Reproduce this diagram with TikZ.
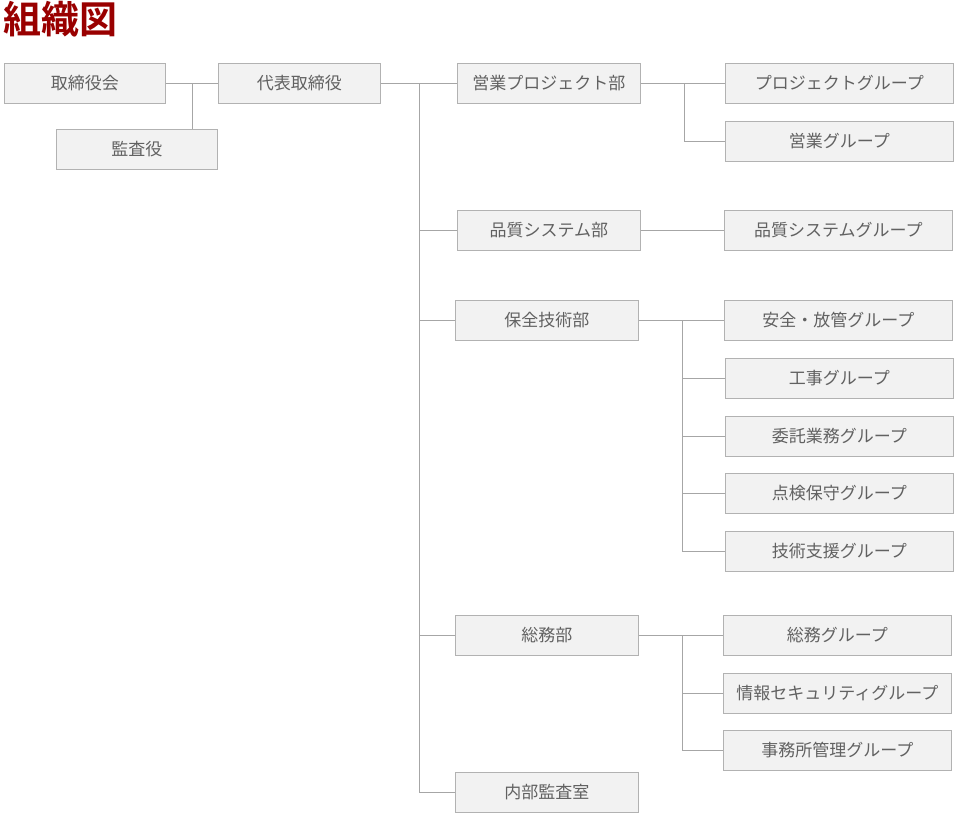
\documentclass[tikz,border=0pt]{standalone}
\usepackage{fontspec}
\setmainfont{Noto Sans CJK JP}
\newfontfamily\ttl{Noto Sans CJK JP Bold}
\usetikzlibrary{shadows}
\tikzset{bx/.style={draw=black!30,fill=black!5,line width=0.8pt,text=black!62,font=\fontsize{17}{19}\selectfont,anchor=north west,inner sep=0pt,drop shadow={shadow xshift=0.8pt,shadow yshift=-0.8pt,opacity=0.3}},
ln/.style={draw=black!35,line width=0.8pt}}
\newcommand\B[6]{\node[bx,minimum width=#4pt-#2pt,minimum height=40pt] (#1) at (#2pt,-#3pt) {#6};}
\begin{document}
\begin{tikzpicture}[x=1pt,y=1pt]
\useasboundingbox (0,0) rectangle (960,-819);
\node[anchor=north west,inner sep=0pt,text=red!60!black,font=\ttl\fontsize{38}{40}\selectfont] (t) at (3,-1) {組織図};
\B{a}{4}{63}{165}{}{取締役会}
\B{b}{218}{63}{380}{}{代表取締役}
\B{c}{56}{129}{217}{}{監査役}
\B{d1}{457}{63}{640}{}{営業プロジェクト部}
\B{d2}{457}{210}{640}{}{品質システム部}
\B{d3}{455}{300}{638}{}{保全技術部}
\B{d4}{455}{615}{638}{}{総務部}
\B{d5}{455}{772}{638}{}{内部監査室}
\B{g1}{725}{63}{953}{}{プロジェクトグループ}
\B{g2}{725}{121}{953}{}{営業グループ}
\B{g3}{724}{210}{952}{}{品質システムグループ}
\B{g4}{724}{300}{952}{}{安全・放管グループ}
\B{g5}{725}{358}{953}{}{工事グループ}
\B{g6}{725}{416}{953}{}{委託業務グループ}
\B{g7}{725}{473}{953}{}{点検保守グループ}
\B{g8}{725}{531}{953}{}{技術支援グループ}
\B{g9}{723}{615}{951}{}{総務グループ}
\B{g10}{723}{673}{951}{}{情報セキュリティグループ}
\B{g11}{723}{730}{951}{}{事務所管理グループ}
\draw[ln] (a.east) -- (b.west);
\draw[ln] (c.north) ++(55.5,0) coordinate (cc) -- (cc |- a.east);
\draw[ln] (b.east) -- (d1.west);
\coordinate (tr) at (419,-792);
\draw[ln] (419,-83) -- (tr);
\foreach \d in {d2,d3,d4,d5} \draw[ln] (\d.west) -- (\d.west -| tr);
\draw[ln] (d1.east) -- (g1.west);
\draw[ln] (684,-83) |- (g2.west);
\draw[ln] (d2.east) -- (g3.west);
\draw[ln] (d3.east) -- (g4.west);
\draw[ln] (682,-320) |- (g8.west);
\foreach \g in {g5,g6,g7} \draw[ln] (\g.west) -- (682,0 |- \g.west);
\draw[ln] (d4.east) -- (g9.west);
\draw[ln] (682,-635) |- (g11.west);
\draw[ln] (g10.west) -- (682,0 |- g10.west);
\end{tikzpicture}
\end{document}
